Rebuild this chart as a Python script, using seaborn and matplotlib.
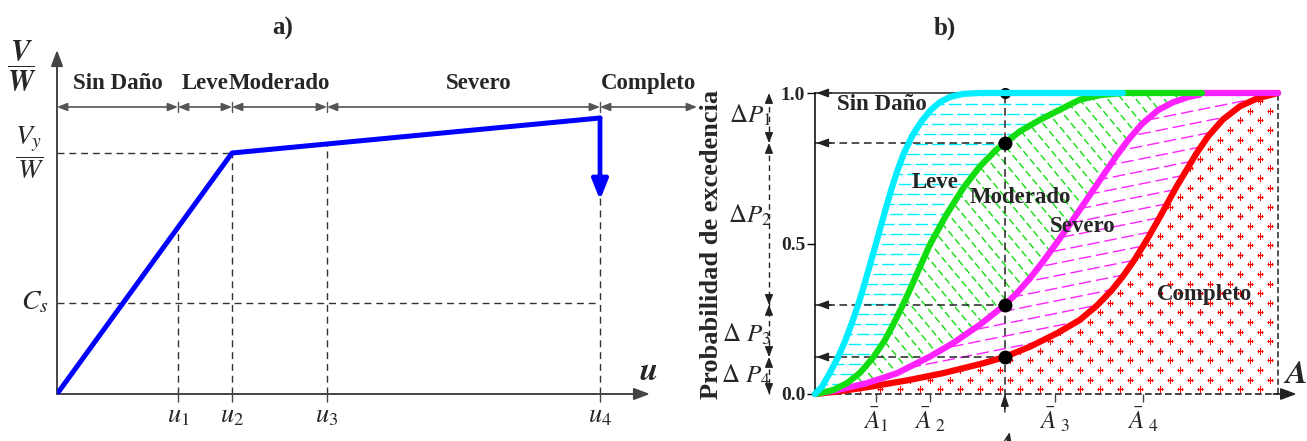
import numpy as np
import pandas as pd
import matplotlib
matplotlib.use("Agg")
import matplotlib.pyplot as plt
from matplotlib.patches import Polygon
import seaborn as sns

# ---------------- panel a) capacity curve ----------------
u_limits = [1.21, 1.75, 2.70, 5.43]
u_labels = [r"$u_\mathit{1}$", r"$u_\mathit{2}$", r"$u_\mathit{3}$", r"$u_\mathit{4}$"]
cap_u = [0.0, 1.75, 5.43]
cap_v = [0.0, 2.41, 2.76]
v_drop = 1.94
vy_level = 2.41
cs_level = 0.91
u_end = 6.40
states = ["Sin Daño", "Leve", "Moderado", "Severo", "Completo"]

# ---------------- panel b) fragility curves ----------------
leve_x = [0.0, 0.015, 0.032, 0.050, 0.065, 0.080, 0.093, 0.104, 0.112, 0.123,
          0.134, 0.147, 0.156, 0.166, 0.177, 0.192, 0.210, 0.231, 0.251, 0.270,
          0.292, 0.320, 0.355, 0.665]
leve_p = [0.0, 0.024, 0.070, 0.123, 0.176, 0.237, 0.296, 0.350, 0.393, 0.452,
          0.512, 0.584, 0.633, 0.685, 0.738, 0.800, 0.858, 0.908, 0.945, 0.970,
          0.987, 0.997, 1.0, 1.0]
mod_x = [0.0, 0.011, 0.039, 0.069, 0.097, 0.125, 0.151, 0.168, 0.188, 0.201,
         0.216, 0.231, 0.248, 0.284, 0.320, 0.356, 0.392, 0.410, 0.443, 0.486,
         0.536, 0.572, 0.616, 0.665, 0.836]
mod_p = [0.0, 0.003, 0.013, 0.036, 0.070, 0.120, 0.179, 0.228, 0.290, 0.333,
         0.385, 0.437, 0.496, 0.596, 0.684, 0.756, 0.812, 0.834, 0.873, 0.911,
         0.950, 0.978, 0.993, 1.0, 1.0]
sev_x = [0.0, 0.048, 0.112, 0.177, 0.248, 0.298, 0.356, 0.410, 0.436, 0.464,
         0.492, 0.523, 0.555, 0.605, 0.652, 0.676, 0.706, 0.741, 0.773, 0.816,
         0.836, 1.0]
sev_p = [0.0, 0.013, 0.036, 0.069, 0.124, 0.169, 0.230, 0.296, 0.335, 0.384,
         0.439, 0.504, 0.574, 0.687, 0.793, 0.843, 0.897, 0.943, 0.969, 0.992,
         1.0, 1.0]
comp_x = [0.0, 0.048, 0.119, 0.205, 0.276, 0.363, 0.410, 0.464, 0.523, 0.572,
          0.609, 0.641, 0.665, 0.691, 0.717, 0.739, 0.782, 0.825, 0.849, 0.881,
          0.918, 0.955, 1.0]
comp_p = [0.0, 0.008, 0.024, 0.047, 0.069, 0.102, 0.123, 0.157, 0.202, 0.246,
          0.294, 0.345, 0.391, 0.448, 0.513, 0.572, 0.692, 0.802, 0.856, 0.912,
          0.956, 0.982, 1.0]
a_bar = [0.132, 0.248, 0.518, 0.708]
a_bar_labels = [r"$\bar{A}_\mathit{1}$", r"$\bar{A}_{\ \mathit{2}}$",
                r"$\bar{A}_{\ \mathit{3}}$", r"$\bar{A}_{\ \mathit{4}}$"]
a_value = 0.410
p_at_a = [1.0, 0.834, 0.296, 0.123]
dp_labels = [r"$\Delta P_\mathit{1}$", r"$\Delta P_\mathit{2}$",
             r"$\Delta\ P_\mathit{3}$", r"$\Delta\ P_\mathit{4}$"]
p_ticks = [0.0, 0.5, 1.0]
p_tick_labels = ["0.0", "0.5", "1.0"]

curve_colors = {"Leve": "#00EEFF", "Moderado": "#11DD11",
                "Severo": "#FF22FF", "Completo": "#FF0000"}

sns.set_theme(style="white")
plt.rcParams["font.family"] = ["Liberation Serif", "DejaVu Serif"]
plt.rcParams["mathtext.fontset"] = "stix"

FW, FH = 1307, 441
fig = plt.figure(figsize=(FW / 100, FH / 100), dpi=100)


def px_axes(x0, y0, x1, y1):
    ax = fig.add_axes([x0 / FW, (FH - y1) / FH, (x1 - x0) / FW, (y1 - y0) / FH])
    ax.set_facecolor("none")
    return ax


def arrow(ax, start, end, color="#444444", lw=1.4, style="-|>,head_length=0.8,head_width=0.3", z=4):
    ax.annotate("", xy=end, xytext=start, annotation_clip=False,
                arrowprops=dict(arrowstyle=style, color=color, lw=lw,
                                shrinkA=0, shrinkB=0), zorder=z)


# ======================= a) =======================
ax1 = px_axes(57, 44, 657, 394)
ax1.set_xlim(0, 6.0)
ax1.set_ylim(0, 3.5)
for s in ax1.spines.values():
    s.set_visible(False)
ax1.set_yticks([])
ax1.set_xticks(u_limits, u_labels, fontsize=19)
ax1.tick_params(axis="x", length=6, width=1, color="#444444", pad=3, bottom=True)
ax1.grid(False)

arrow(ax1, (0, 0), (0, 3.44))
arrow(ax1, (0, 0), (5.93, 0))

dash_kw = dict(color="#333333", lw=1.0, linestyle=(0, (5, 3.5)), zorder=2)
# guide lines down from the curve
for u in u_limits:
    v = np.interp(u, cap_u, cap_v)
    ax1.plot([u, u], [0, v], **dash_kw)
ax1.plot([0, cap_u[1]], [vy_level, vy_level], **dash_kw)
ax1.plot([0, u_limits[-1]], [cs_level, cs_level], **dash_kw)

sns.lineplot(x=cap_u, y=cap_v, color="#0000FF", lw=3.6, sort=False, ax=ax1,
             zorder=5, solid_capstyle="round")
arrow(ax1, (cap_u[-1], cap_v[-1]), (cap_u[-1], v_drop), color="#0000FF", lw=3.4,
      style="-|>,head_length=1.0,head_width=0.4", z=5)

# damage-state ranges
zone_y = 2.87
bounds = [0.0] + u_limits + [u_end]
small = "<|-|>,head_length=0.5,head_width=0.2"
for i, name in enumerate(states):
    lo, hi = bounds[i], bounds[i + 1]
    arrow(ax1, (lo, zone_y), (hi, zone_y), color="#555555", lw=1.2, style=small)
    shift = 0.15 if name == "Severo" else 0.0
    ax1.text((lo + hi) / 2 + shift, zone_y + 0.13, name, ha="center", va="bottom",
             fontsize=16.5, fontweight="bold")
for u in u_limits:
    ax1.plot([u, u], [zone_y - 0.05, zone_y + 0.05], color="#555555", lw=1.0, clip_on=False)

ax1.text(-0.35, 3.28, r"$\dfrac{\boldsymbol{V}}{\boldsymbol{W}}$", fontsize=21,
         ha="center", va="center")
ax1.text(-0.27, 2.41, r"$\dfrac{V_y}{W}$", fontsize=20, ha="center", va="center")
ax1.text(-0.22, cs_level, r"$C_s$", fontsize=20, ha="center", va="center")
ax1.text(5.91, 0.22, r"$\boldsymbol{u}$", fontsize=24, ha="center", va="center")
fig.text(283 / FW, 1 - 28 / FH, "a)", fontsize=18, fontweight="bold", ha="center", va="center")

# ======================= b) =======================
ax2 = px_axes(815, 93, 1278, 394)
ax2.set_xlim(0, 1)
ax2.set_ylim(0, 1)
ax2.grid(False)
for side in ["top", "right", "bottom"]:
    ax2.spines[side].set_visible(False)
ax2.spines["left"].set_color("black")
ax2.spines["left"].set_linewidth(1.1)
ax2.set_yticks(p_ticks, p_tick_labels, fontsize=14, fontweight="bold")
ax2.set_xticks(a_bar, a_bar_labels, fontsize=18)
ax2.tick_params(axis="y", length=6, width=1, color="black", pad=1, left=True)
ax2.tick_params(axis="x", length=6, width=1, color="#444444", pad=2, bottom=True)

bb = ax2.get_position()
W = bb.width * FW
H = bb.height * FH


def region(xs_top, ps_top, xs_bot, ps_bot):
    pts = list(zip(xs_top, ps_top)) + list(zip(xs_bot, ps_bot))[::-1]
    patch = Polygon(pts, closed=True, facecolor="none", edgecolor="none")
    ax2.add_patch(patch)
    return patch


def line_hatch(patch, slope, step, color, dash):
    c_lo = min(0, -slope * W) - step
    c_hi = max(H, H - slope * W) + step
    for k, c in enumerate(np.arange(c_lo, c_hi, step)):
        xs = np.array([0, W])
        ys = slope * xs + c
        off = (k % 2) * (dash[0] + dash[1]) / 2
        ln, = ax2.plot(xs / W, ys / H, color=color, lw=1.0,
                       linestyle=(off, dash), zorder=1)
        ln.set_clip_path(patch)


def plus_hatch(patch, dx, dy, color):
    px, py = [], []
    for k, yy in enumerate(np.arange(dy / 2, H, dy)):
        xs = np.arange(5 + (k % 2) * dx / 2, W, dx)
        px.extend(xs)
        py.extend([yy] * len(xs))
    ln, = ax2.plot(np.array(px) / W, np.array(py) / H, "+", ms=4.5, mew=0.8,
                   color=color, linestyle="none", zorder=1)
    ln.set_clip_path(patch)


leve_patch = region(leve_x, leve_p, mod_x, mod_p)
mod_patch = region(mod_x, mod_p, sev_x, sev_p)
sev_patch = region(sev_x, sev_p, comp_x, comp_p)
comp_patch = region(comp_x, comp_p, [0.0, 1.0], [0.0, 0.0])
line_hatch(leve_patch, 0.0, 10.0, curve_colors["Leve"], (9, 3))
line_hatch(mod_patch, -1.2, 17.0, curve_colors["Moderado"], (5, 2.5))
line_hatch(sev_patch, 0.2, 12.5, curve_colors["Severo"], (9, 3.5))
plus_hatch(comp_patch, 20.0, 9.6, curve_colors["Completo"])

# axes frame pieces
ax2.plot([0, 1], [0, 0], color="#222222", lw=1.2, linestyle=(0, (4, 2)), clip_on=False, zorder=2)
ax2.plot([1, 1], [0, 1], color="#222222", lw=1.1, linestyle=(0, (4, 2)), clip_on=False, zorder=2)
arrow(ax2, (0.99, 0), (1.04, 0), color="#222222", lw=1.2)
ax2.text(1.037, 0.063, r"$\boldsymbol{A}$", fontsize=24, ha="center", va="center")

# reading at A
ax2.plot([a_value, a_value], [-0.05, 1.0], color="#222222", lw=1.1,
         linestyle=(0, (5, 3)), clip_on=False, zorder=2.5)
arrow(ax2, (a_value, -0.06), (a_value, 0.0), color="#222222", lw=1.0,
      style="-|>,head_length=0.6,head_width=0.2")
ax2.text(a_value, -0.125, r"$\boldsymbol{A}$", fontsize=24, ha="center", va="top")
for p in p_at_a:
    ls = "-" if p == 1.0 else (0, (5, 3))
    ax2.plot([0, a_value], [p, p], color="#222222", lw=1.1, linestyle=ls,
             clip_on=False, zorder=2.5)
    arrow(ax2, (0.035, p), (0.003, p), color="#222222", lw=1.0,
          style="-|>,head_length=0.6,head_width=0.22")

curves = pd.concat([
    pd.DataFrame({"A": leve_x, "P": leve_p, "estado": "Leve"}),
    pd.DataFrame({"A": mod_x, "P": mod_p, "estado": "Moderado"}),
    pd.DataFrame({"A": sev_x, "P": sev_p, "estado": "Severo"}),
    pd.DataFrame({"A": comp_x, "P": comp_p, "estado": "Completo"}),
])
sns.lineplot(data=curves, x="A", y="P", hue="estado",
             hue_order=["Completo", "Severo", "Moderado", "Leve"],
             palette=curve_colors, sort=False, estimator=None, lw=4.5,
             legend=False, ax=ax2, clip_on=False, zorder=3,
             solid_joinstyle="round", solid_capstyle="round")
ax2.set_xlabel("")
ax2.set_ylabel("")

ax2.plot([a_value] * 3, p_at_a[1:], "o", color="black", ms=9, clip_on=False, zorder=6)
ax2.plot([a_value], p_at_a[:1], "o", color="black", ms=7, clip_on=False, zorder=2.8)

# ΔP ranges on the left
xp = -0.0994
levels = p_at_a + [0.0]
ax2.plot([xp, xp], [0, 1], color="#222222", lw=1.0, linestyle=(0, (4, 3)), clip_on=False)
tri = "-|>,head_length=0.5,head_width=0.2"
for hi, lo in zip(levels[:-1], levels[1:]):
    arrow(ax2, (xp, hi - 0.03), (xp, hi), color="#222222", lw=1.0, style=tri)
    arrow(ax2, (xp, lo + 0.03), (xp, lo), color="#222222", lw=1.0, style=tri)
dp_pos = [(-0.140, 0.927), (-0.140, 0.595), (-0.149, 0.199), (-0.149, 0.063)]
for lab, (x, y) in zip(dp_labels, dp_pos):
    ax2.text(x, y, lab, fontsize=18, ha="center", va="center")

label_pos = {"Sin Daño": (0.145, 0.963), "Leve": (0.259, 0.704), "Moderado": (0.443, 0.654),
             "Severo": (0.577, 0.555), "Completo": (0.842, 0.329)}
for name in states:
    x, y = label_pos[name]
    ax2.text(x, y, name, fontsize=16.5, fontweight="bold", ha="center", va="center", zorder=7)

fig.text(712 / FW, (FH - 244) / FH, "Probabilidad de excedencia", rotation=90,
         fontsize=19, fontweight="bold", ha="center", va="center")
fig.text(945 / FW, 1 - 28 / FH, "b)", fontsize=18, fontweight="bold", ha="center", va="center")

fig.savefig("out.png", dpi=100)
